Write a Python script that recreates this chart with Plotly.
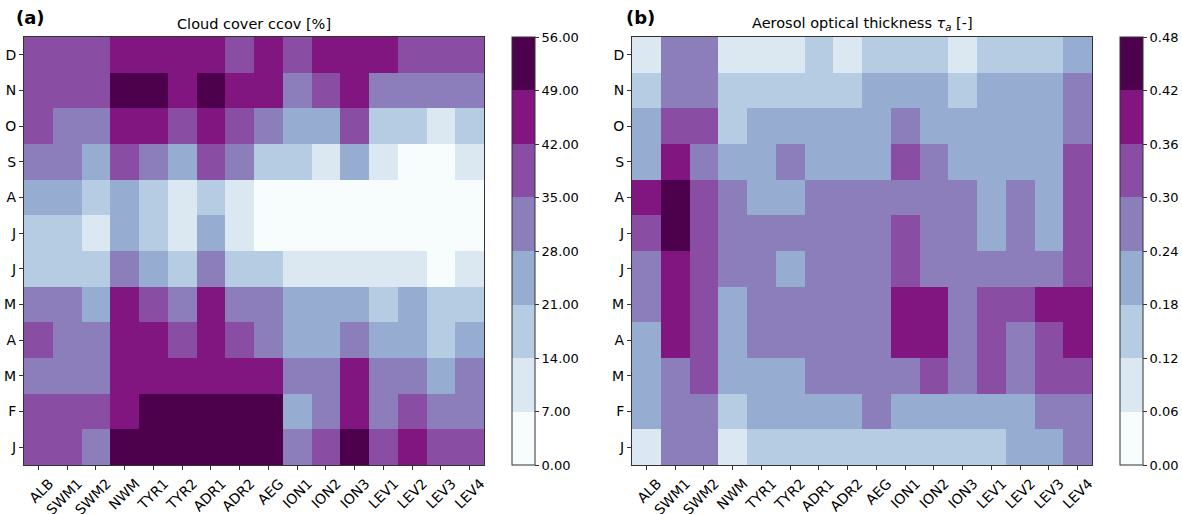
import plotly.graph_objects as go

stations = ["ALB", "SWM1", "SWM2", "NWM", "TYR1", "TYR2", "ADR1", "ADR2", "AEG",
            "ION1", "ION2", "ION3", "LEV1", "LEV2", "LEV3", "LEV4"]
months = ["J", "F", "M", "A", "M", "J", "J", "A", "S", "O", "N", "D"]  # bottom to top

# Cloud cover ccov [%], rows Jan..Dec, columns = stations
ccov = [
    [38.2, 38.6, 31.5, 52.4, 52.9, 53.1, 52.6, 52.2, 51.8, 31.0, 38.4, 52.5, 38.1, 45.3, 38.7, 38.2],
    [38.4, 38.1, 38.9, 45.6, 52.3, 52.7, 52.8, 52.1, 51.6, 24.8, 31.7, 45.2, 31.4, 38.2, 31.6, 31.3],
    [31.6, 31.2, 31.4, 45.8, 45.4, 45.1, 45.9, 45.3, 45.2, 31.5, 31.8, 45.4, 31.3, 31.2, 24.5, 31.6],
    [38.1, 31.5, 31.7, 45.2, 45.6, 38.4, 45.7, 38.2, 31.9, 24.6, 24.3, 31.2, 24.8, 24.5, 17.6, 24.2],
    [31.3, 31.8, 24.7, 45.3, 38.5, 31.6, 45.4, 31.5, 31.1, 24.2, 24.6, 24.9, 17.8, 24.4, 17.3, 17.5],
    [17.5, 17.2, 17.8, 31.4, 24.3, 17.6, 31.5, 17.4, 17.1, 10.6, 10.3, 10.8, 10.2, 10.5, 5.1, 10.4],
    [17.3, 17.6, 10.7, 24.5, 17.7, 10.2, 24.1, 10.6, 3.8, 2.5, 2.9, 3.1, 4.2, 3.6, 1.8, 2.7],
    [24.4, 24.1, 17.5, 24.7, 17.2, 10.5, 17.9, 10.1, 4.5, 2.2, 2.6, 2.4, 3.3, 1.9, 1.5, 2.1],
    [31.8, 31.4, 24.2, 38.6, 31.7, 24.5, 38.2, 31.3, 17.4, 17.8, 10.4, 24.3, 10.8, 4.6, 3.9, 10.2],
    [38.5, 31.6, 31.2, 45.5, 45.2, 38.7, 45.8, 38.6, 31.5, 24.7, 24.9, 38.1, 17.2, 17.5, 10.9, 17.3],
    [38.7, 38.3, 38.5, 51.9, 52.3, 45.7, 52.6, 45.4, 45.8, 31.9, 38.3, 45.6, 31.7, 31.5, 31.8, 31.2],
    [38.3, 38.7, 38.2, 45.2, 45.7, 45.5, 45.3, 38.8, 45.6, 38.5, 45.1, 45.8, 45.4, 38.6, 38.1, 38.4],
]

# Aerosol optical thickness tau_a [-], rows Jan..Dec
aot = [
    [0.10, 0.28, 0.27, 0.09, 0.15, 0.16, 0.15, 0.16, 0.17, 0.15, 0.16, 0.15, 0.17, 0.21, 0.22, 0.27],
    [0.21, 0.27, 0.28, 0.16, 0.21, 0.22, 0.21, 0.22, 0.26, 0.22, 0.21, 0.22, 0.23, 0.22, 0.27, 0.28],
    [0.22, 0.27, 0.33, 0.21, 0.22, 0.23, 0.27, 0.28, 0.27, 0.28, 0.33, 0.28, 0.32, 0.27, 0.33, 0.34],
    [0.21, 0.39, 0.34, 0.22, 0.27, 0.28, 0.27, 0.28, 0.29, 0.40, 0.39, 0.28, 0.33, 0.27, 0.34, 0.39],
    [0.27, 0.40, 0.33, 0.21, 0.28, 0.27, 0.28, 0.27, 0.28, 0.39, 0.40, 0.27, 0.34, 0.33, 0.39, 0.40],
    [0.27, 0.39, 0.34, 0.28, 0.27, 0.22, 0.28, 0.27, 0.28, 0.33, 0.27, 0.28, 0.27, 0.28, 0.27, 0.34],
    [0.33, 0.45, 0.33, 0.27, 0.28, 0.27, 0.27, 0.28, 0.27, 0.34, 0.28, 0.27, 0.22, 0.27, 0.21, 0.33],
    [0.40, 0.46, 0.34, 0.28, 0.21, 0.22, 0.28, 0.27, 0.28, 0.27, 0.28, 0.27, 0.21, 0.28, 0.22, 0.34],
    [0.22, 0.39, 0.27, 0.21, 0.22, 0.27, 0.21, 0.22, 0.21, 0.33, 0.28, 0.22, 0.21, 0.22, 0.21, 0.33],
    [0.21, 0.33, 0.34, 0.16, 0.22, 0.21, 0.22, 0.21, 0.22, 0.27, 0.21, 0.22, 0.21, 0.22, 0.21, 0.27],
    [0.15, 0.28, 0.27, 0.16, 0.15, 0.16, 0.17, 0.16, 0.21, 0.22, 0.21, 0.16, 0.22, 0.21, 0.22, 0.28],
    [0.10, 0.27, 0.28, 0.09, 0.10, 0.11, 0.16, 0.10, 0.15, 0.16, 0.17, 0.10, 0.16, 0.15, 0.16, 0.22],
]

ccov_ticks = [0, 7, 14, 21, 28, 35, 42, 49, 56]
aot_ticks = [0.00, 0.06, 0.12, 0.18, 0.24, 0.30, 0.36, 0.42, 0.48]

bin_colors = ["#f7fcfd", "#dbe8f2", "#b5cce2", "#96acd1",
              "#8c7eba", "#894da3", "#821680", "#4d004b"]

def step_scale(colors):
    n = len(colors)
    scale = []
    for i, c in enumerate(colors):
        scale.append([i / n, c])
        scale.append([(i + 1) / n, c])
    return scale

W, H = 1182, 514
font_family = "DejaVu Sans"
ax_top, ax_bot = 37, 465
y_dom = [1 - ax_bot / H, 1 - ax_top / H]
left_x = [24 / W, 484 / W]
right_x = [632 / W, 1092 / W]

xs = list(range(len(stations)))
ys = list(range(len(months)))

def cbar(x_px, ticks):
    return dict(
        x=x_px / W, xanchor="left", xpad=0, y=y_dom[0], yanchor="bottom", ypad=0,
        len=(ax_bot - ax_top) / H, lenmode="fraction", thickness=23,
        tickvals=ticks, tickformat=".2f", ticks="outside", ticklen=4,
        tickcolor="#333333", outlinecolor="#333333", outlinewidth=1,
        tickfont=dict(family=font_family, size=13, color="black"),
    )

fig = go.Figure()

fig.add_trace(go.Heatmap(
    z=ccov, x=xs, y=ys, xaxis="x", yaxis="y",
    colorscale=step_scale(bin_colors), zmin=ccov_ticks[0], zmax=ccov_ticks[-1],
    hoverinfo="z", colorbar=cbar(512, ccov_ticks),
))

fig.add_trace(go.Heatmap(
    z=aot, x=xs, y=ys, xaxis="x2", yaxis="y2",
    colorscale=step_scale(bin_colors), zmin=aot_ticks[0], zmax=aot_ticks[-1],
    hoverinfo="z", colorbar=cbar(1120, aot_ticks),
))

xaxis_common = dict(
    tickmode="array", tickvals=xs, ticktext=stations, tickangle=-45,
    ticklabelshift=11,
    range=[-0.5, len(stations) - 0.5], showgrid=False, zeroline=False,
    showline=True, mirror=True, linecolor="#333333", linewidth=1,
    ticks="outside", ticklen=4, tickcolor="#333333",
    tickfont=dict(family=font_family, size=14, color="black"),
)
yaxis_common = dict(
    tickmode="array", tickvals=ys, ticktext=months,
    range=[-0.5, len(months) - 0.5], showgrid=False, zeroline=False,
    showline=True, mirror=True, linecolor="#333333", linewidth=1,
    ticks="outside", ticklen=4, tickcolor="#333333",
    tickfont=dict(family=font_family, size=14, color="black"),
)

fig.update_layout(
    width=W, height=H,
    margin=dict(l=0, r=0, t=0, b=0, autoexpand=False),
    paper_bgcolor="white", plot_bgcolor="white",
    font=dict(family=font_family, color="black"),
    xaxis=dict(domain=left_x, anchor="y", **xaxis_common),
    yaxis=dict(domain=y_dom, anchor="x", **yaxis_common),
    xaxis2=dict(domain=right_x, anchor="y2", **xaxis_common),
    yaxis2=dict(domain=y_dom, anchor="x2", **yaxis_common),
    showlegend=False,
    annotations=[
        dict(text="Cloud cover ccov [%]", x=(left_x[0] + left_x[1]) / 2, y=1 - 24 / H,
             xref="paper", yref="paper", showarrow=False, xanchor="center", yanchor="middle",
             font=dict(family=font_family, size=14.5, color="black")),
        dict(text="Aerosol optical thickness <i>τ<sub>a</sub></i> [-]",
             x=(right_x[0] + right_x[1]) / 2, y=1 - 24 / H,
             xref="paper", yref="paper", showarrow=False, xanchor="center", yanchor="middle",
             font=dict(family=font_family, size=14.5, color="black")),
        dict(text="<b>(a)</b>", x=14 / W, y=1 - 18 / H, xref="paper", yref="paper",
             showarrow=False, xanchor="left", yanchor="middle",
             font=dict(family=font_family, size=18, color="black")),
        dict(text="<b>(b)</b>", x=624 / W, y=1 - 18 / H, xref="paper", yref="paper",
             showarrow=False, xanchor="left", yanchor="middle",
             font=dict(family=font_family, size=18, color="black")),
    ],
)

fig.write_html(
    "out.html",
    config={"displayModeBar": False},
    post_script="document.body.style.margin='0';document.body.style.overflow='hidden';",
)
